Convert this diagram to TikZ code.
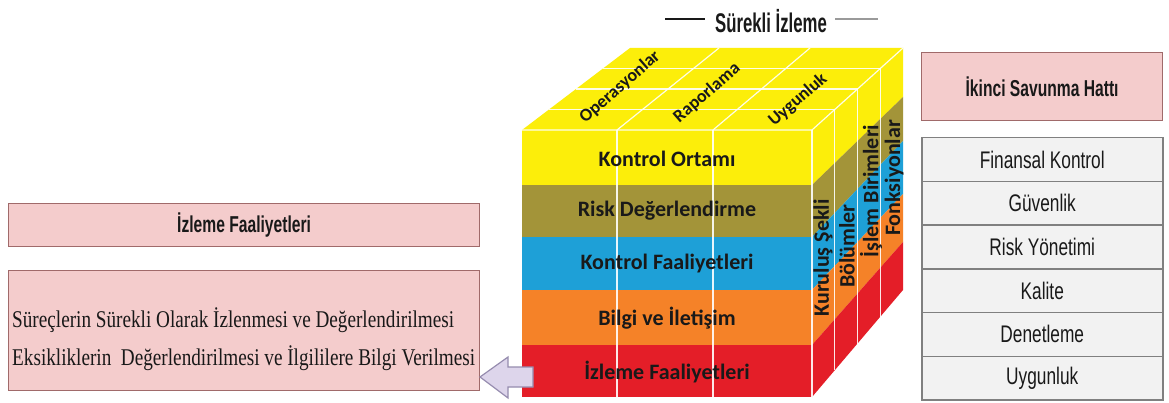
\documentclass[tikz,border=0pt]{standalone}
\usepackage{fontspec}
\setmainfont{Liberation Serif}
\newfontfamily\cubefont{Carlito}
\newfontfamily\narrowfont[FakeStretch=0.72]{Liberation Sans}
\newfontfamily\headfont[FakeStretch=0.68]{Liberation Sans}
\newfontfamily\titlefont[FakeStretch=0.62]{Liberation Sans}
\newfontfamily\serifnarrow[FakeStretch=0.8]{Liberation Serif}

\definecolor{cubeyellow}{RGB}{252,238,10}
\definecolor{cubeolive}{RGB}{163,148,57}
\definecolor{cubeblue}{RGB}{30,160,215}
\definecolor{cubeorange}{RGB}{245,130,40}
\definecolor{cubered}{RGB}{228,30,40}
\definecolor{pinkfill}{RGB}{244,204,204}
\definecolor{pinkedge}{RGB}{160,106,106}
\definecolor{listfill}{RGB}{242,242,242}
\definecolor{listedge}{RGB}{128,128,128}
\definecolor{arrowfill}{RGB}{221,213,235}
\definecolor{arrowedge}{RGB}{150,140,175}
\definecolor{ink}{RGB}{25,25,25}

\tikzset{
  gridline/.style={draw=white, line width=1.2pt, opacity=0.9},
  layerlabel/.style={font=\cubefont\bfseries\fontsize{22}{24}\selectfont, text=ink, inner sep=0pt},
  toplabel/.style={font=\cubefont\bfseries\fontsize{18}{20}\selectfont, text=ink, inner sep=0pt, rotate=41},
  sidelabel/.style={font=\cubefont\bfseries\fontsize{22}{24}\selectfont, text=ink, inner sep=0pt, rotate=90},
  pinkbox/.style={draw=pinkedge, fill=pinkfill, line width=1.2pt, anchor=north west, inner sep=0pt},
  listbox/.style={draw=listedge, fill=listfill, line width=1.5pt, anchor=north west, inner sep=0pt,
    minimum width=241pt, minimum height=43.7pt, font=\narrowfont\fontsize{24}{26}\selectfont, text=ink},
}

\begin{document}
\begin{tikzpicture}[x=1pt, y=-1pt]
\useasboundingbox (0,0) rectangle (1169,403);
\fill[white] (0,0) rectangle (1169,403);

% ---- cube: top face
\fill[cubeyellow] (522,130) -- (812,130) -- (903,48) -- (630,48) -- cycle;

% ---- cube: front face layers
\fill[cubeyellow] (522,130) rectangle (812,185);
\fill[cubeolive]  (522,185) rectangle (812,237);
\fill[cubeblue]   (522,237) rectangle (812,290);
\fill[cubeorange] (522,290) rectangle (812,345);
\fill[cubered]    (522,345) rectangle (812,397);

% ---- cube: right face layers
\fill[cubeyellow] (812,130) -- (903,48)  -- (903,97)  -- (812,185) -- cycle;
\fill[cubeolive]  (812,185) -- (903,97)  -- (903,141) -- (812,237) -- cycle;
\fill[cubeblue]   (812,237) -- (903,141) -- (903,194) -- (812,290) -- cycle;
\fill[cubeorange] (812,290) -- (903,194) -- (903,242) -- (812,345) -- cycle;
\fill[cubered]    (812,345) -- (903,242) -- (903,290) -- (812,397) -- cycle;

% ---- grid lines
% front columns
\draw[gridline] (617,130) -- (617,397);
\draw[gridline] (713,130) -- (713,397);
% top face columns
\draw[gridline] (617,130) -- (719,48);
\draw[gridline] (713,130) -- (810,48);
% top face depth rows
\draw[gridline] (549,109.5) -- (834.75,109.5);
\draw[gridline] (576,89) -- (857.5,89);
\draw[gridline] (603,68.5) -- (880.25,68.5);
% cube edges
\draw[gridline] (522,130) -- (812,130) -- (903,48);
\draw[gridline] (812,130) -- (812,397);
% right face depth columns
\draw[gridline] (834.75,109.5) -- (834.75,370.25);
\draw[gridline] (857.5,89) -- (857.5,343.5);
\draw[gridline] (880.25,68.5) -- (880.25,316.75);

% ---- cube labels
\node[layerlabel] (kontrolortami) at (667,159) {Kontrol Ortamı};
\node[layerlabel] (riskdeg) at (667,211) {Risk Değerlendirme};
\node[layerlabel] (kontrolfaal) at (667,264) {Kontrol Faaliyetleri};
\node[layerlabel] (bilgi) at (667,318) {Bilgi ve İletişim};
\node[layerlabel] (izlemecube) at (667,372) {İzleme Faaliyetleri};

\node[toplabel] (operasyon) at (620,87) {Operasyonlar};
\node[toplabel] (raporlama) at (707,93) {Raporlama};
\node[toplabel] (uygunlukt) at (798,100) {Uygunluk};

\node[sidelabel] (kurulus) at (823,258) {Kuruluş Şekli};
\node[sidelabel] (bolumler) at (847,246) {Bölümler};
\node[sidelabel] (islem) at (871,191) {İşlem Birimleri};
\node[sidelabel] (fonksiyon) at (894,178) {Fonksiyonlar};

% ---- title
\node[font=\titlefont\bfseries\fontsize{27}{29}\selectfont, text=ink, inner sep=0pt] (title) at (771,21) {Sürekli İzleme};
\draw[line width=1.5pt, ink] (665,19) -- (705,19);
\draw[line width=2pt, listedge!80] (835,19) -- (878,19);

% ---- left boxes
\node[pinkbox, minimum width=471pt, minimum height=43pt,
      font=\headfont\bfseries\fontsize{23}{25}\selectfont, text=ink] (izlemehead) at (8,203) {İzleme Faaliyetleri};
\node[pinkbox, minimum width=471pt, minimum height=120pt] (izlemebody) at (8,270) {};
\node[font=\serifnarrow\fontsize{24}{26}\selectfont, text=ink, anchor=west, inner sep=0pt] (line1) at (12,320) {Süreçlerin Sürekli Olarak İzlenmesi ve Değerlendirilmesi};
\node[font=\serifnarrow\fontsize{24}{26}\selectfont, text=ink, anchor=west, inner sep=0pt] (line2) at (12,358) {Eksikliklerin\ \ Değerlendirilmesi ve İlgililere Bilgi Verilmesi};

% ---- block arrow from the cube to the monitoring box
\draw[fill=arrowfill, draw=arrowedge, line width=1.2pt, line join=miter]
  (480,377) -- (508,357) -- (508,367) -- (533,367) -- (533,387) -- (508,387) -- (508,398) -- cycle;

% ---- right boxes
\node[pinkbox, minimum width=241pt, minimum height=68pt,
      font=\headfont\bfseries\fontsize{23}{25}\selectfont, text=ink] (ikinci) at (921,52) {İkinci Savunma Hattı};
\node[listbox] (finansal) at (921,137) {Finansal Kontrol};
\node[listbox] (guvenlik) at (921,180.7) {Güvenlik};
\node[listbox] (riskyon) at (921,224.4) {Risk Yönetimi};
\node[listbox] (kalite) at (921,268.1) {Kalite};
\node[listbox] (denetleme) at (921,311.8) {Denetleme};
\node[listbox] (uygunluk) at (921,355.5) {Uygunluk};
\end{tikzpicture}
\end{document}
